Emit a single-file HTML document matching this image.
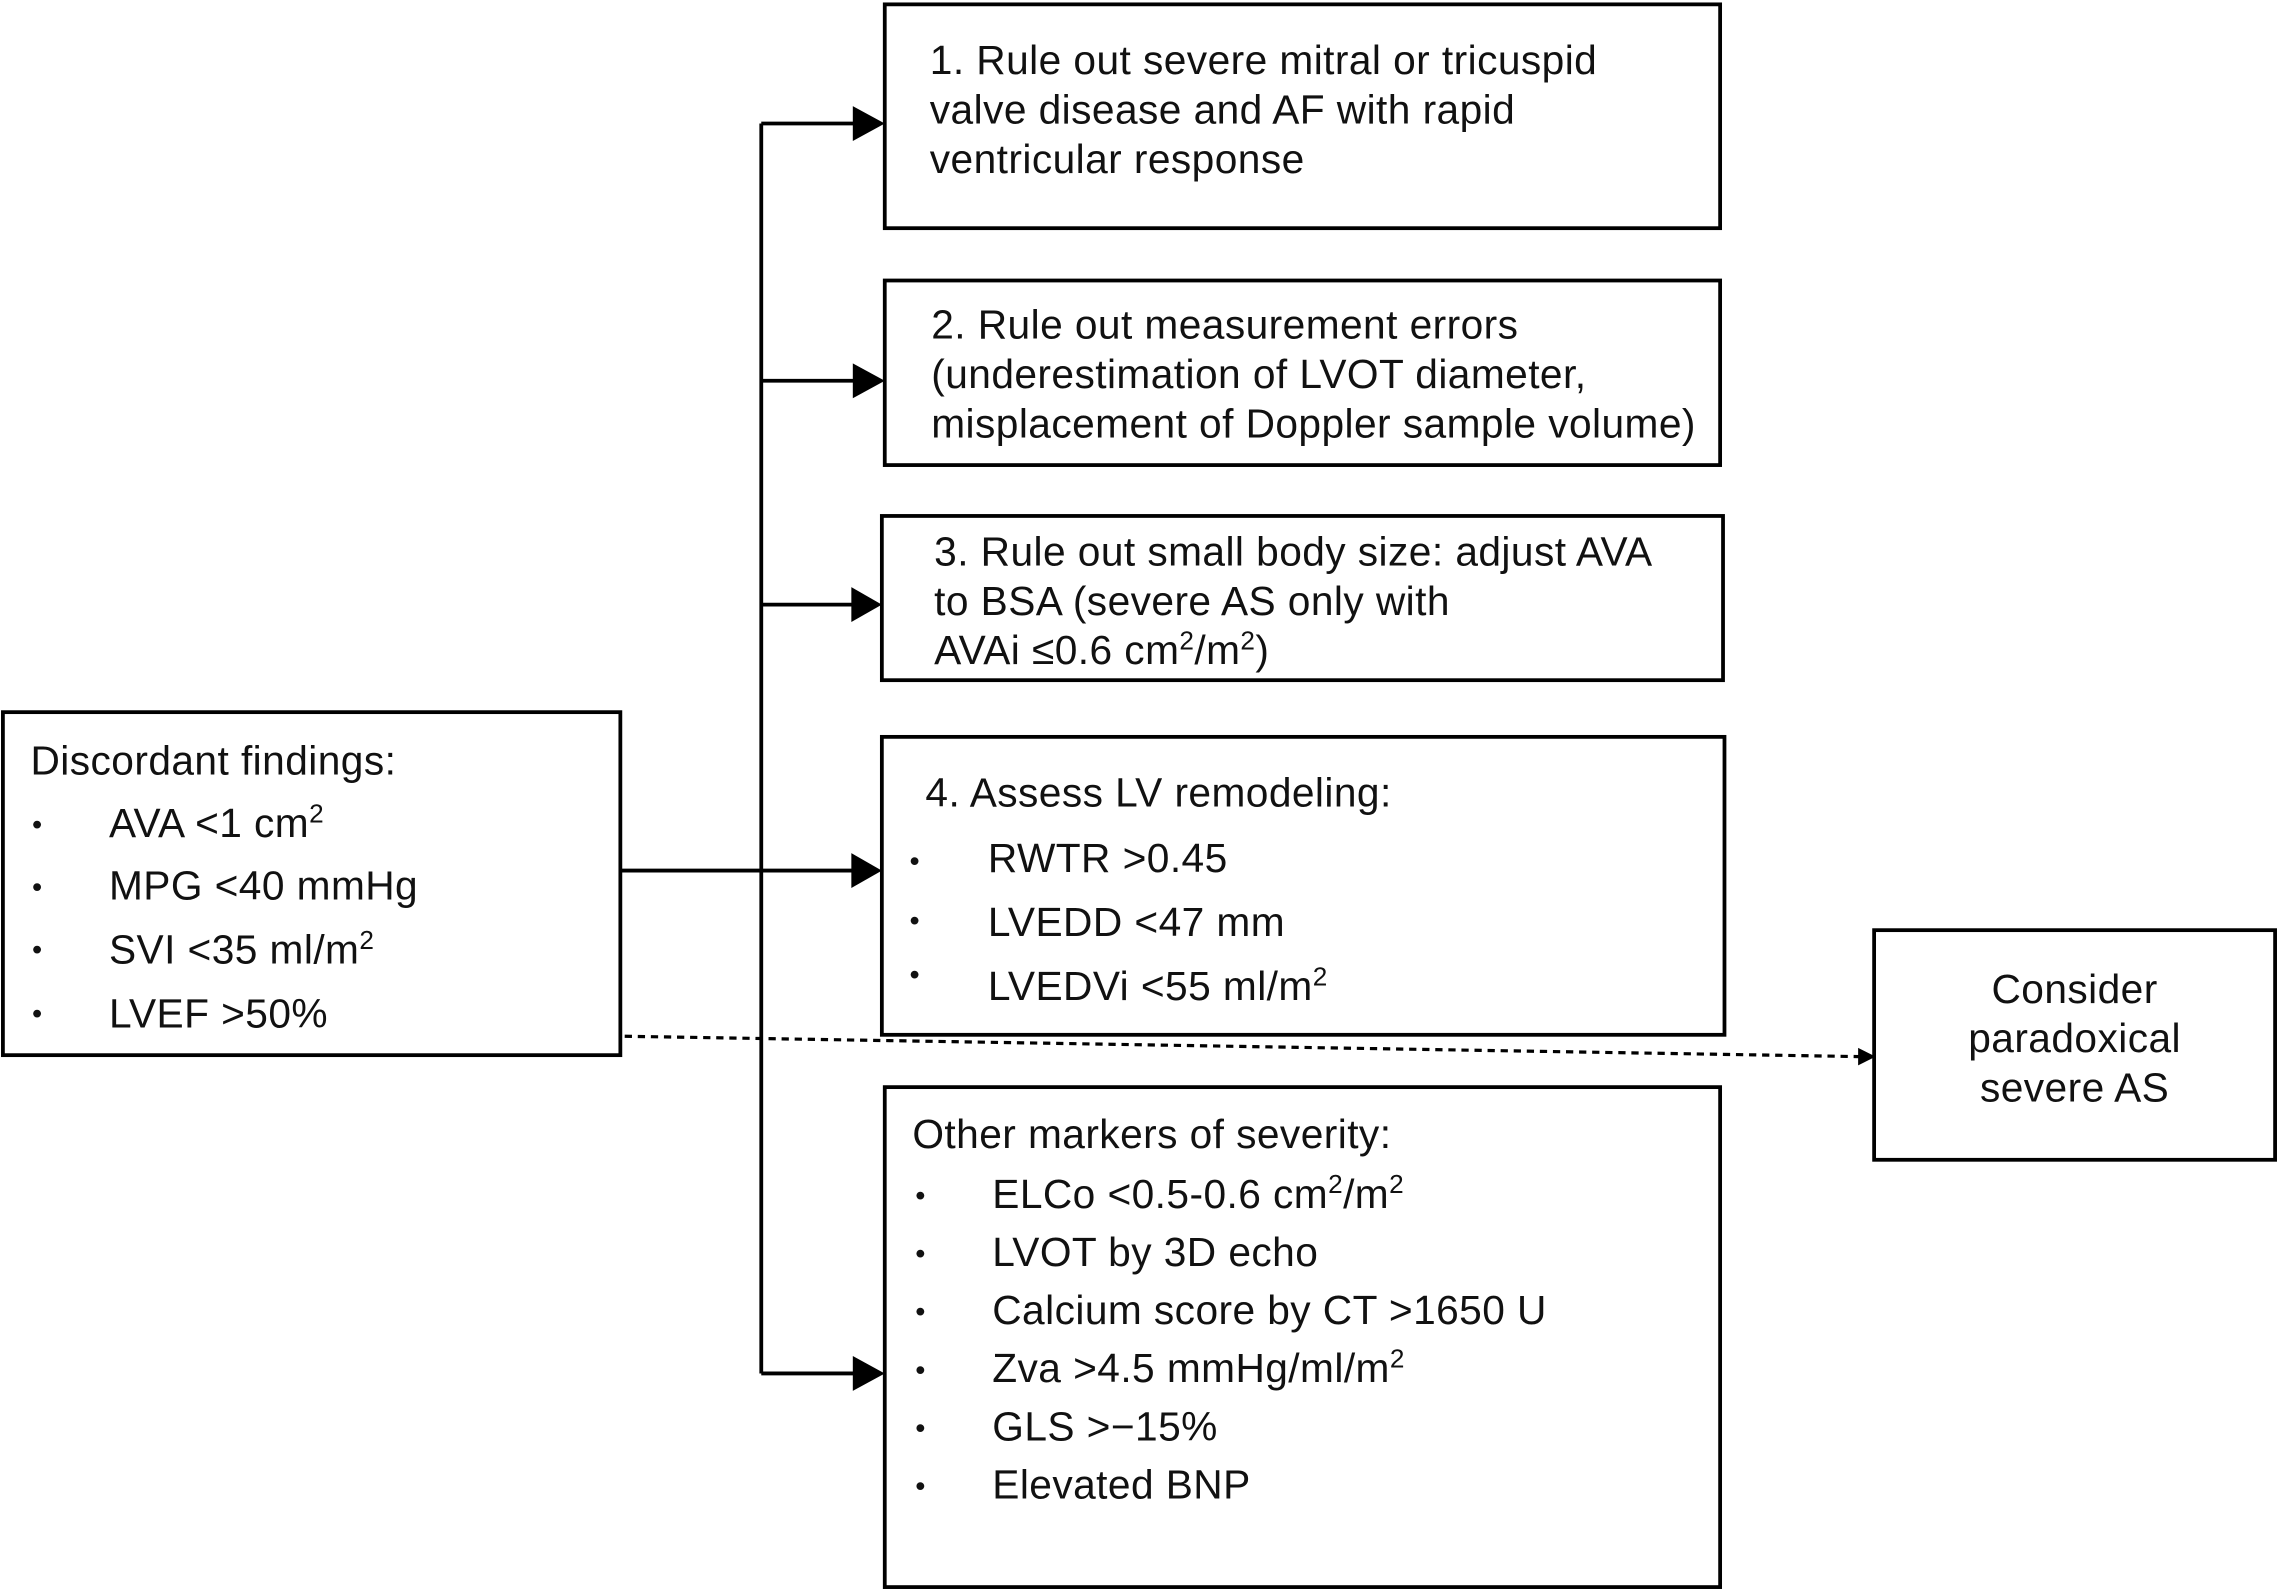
<!DOCTYPE html>
<html><head><style>html,body{margin:0;padding:0;background:#fff}svg{display:block}</style></head>
<body>
<svg width="2278" height="1590" viewBox="0 0 1568 1094" preserveAspectRatio="none" xmlns="http://www.w3.org/2000/svg" font-family="Liberation Sans, Arial, sans-serif" font-size="28" letter-spacing="0.3" fill="#111">
<g fill="none" stroke="#000" stroke-width="2.6">
<rect x="609" y="3" width="575" height="154"/>
<rect x="609" y="193" width="575" height="127"/>
<rect x="607" y="355" width="579" height="113"/>
<rect x="607" y="507" width="580" height="205"/>
<rect x="609" y="748" width="575" height="344"/>
<rect x="2" y="490" width="425" height="236"/>
<rect x="1290" y="640" width="276" height="158"/>
<line x1="524" y1="85" x2="524" y2="945"/>
<line x1="524" y1="85" x2="590" y2="85"/>
<line x1="524" y1="262" x2="590" y2="262"/>
<line x1="524" y1="416" x2="590" y2="416"/>
<line x1="427" y1="599" x2="590" y2="599"/>
<line x1="524" y1="945" x2="590" y2="945"/>
<line x1="430" y1="713" x2="1280" y2="727" stroke-dasharray="5,4" stroke-width="2.2"/>
</g>
<g fill="#000">
<polygon points="587,73 609,85 587,97"/>
<polygon points="587,250 609,262 587,274"/>
<polygon points="586,404 607,416 586,428"/>
<polygon points="586,587 607,599 586,611"/>
<polygon points="587,933 609,945 587,957"/>
<polygon points="1279,721 1291,727 1279,733"/>
</g>
<g>
<text x="640" y="51">1. Rule out severe mitral or tricuspid</text>
<text x="640" y="85">valve disease and AF with rapid</text>
<text x="640" y="119">ventricular response</text>
<text x="641" y="233">2. Rule out measurement errors</text>
<text x="641" y="267">(underestimation of LVOT diameter,</text>
<text x="641" y="301">misplacement of Doppler sample volume)</text>
<text x="643" y="389">3. Rule out small body size: adjust AVA</text>
<text x="643" y="423">to BSA (severe AS only with</text>
<text x="643" y="457">AVAi ≤0.6 cm<tspan font-size="18" dy="-10">2</tspan><tspan dy="10">/m</tspan><tspan font-size="18" dy="-10">2</tspan><tspan dy="10">)</tspan></text>
<text x="637" y="555">4. Assess LV remodeling:</text>
<text x="626" y="599" font-size="20">•</text><text x="680" y="600">RWTR &gt;0.45</text>
<text x="626" y="640" font-size="20">•</text><text x="680" y="644">LVEDD &lt;47 mm</text>
<text x="626" y="677" font-size="20">•</text><text x="680" y="688">LVEDVi &lt;55 ml/m<tspan font-size="18" dy="-10">2</tspan></text>
<text x="628" y="790">Other markers of severity:</text>
<text x="630" y="829" font-size="20">•</text><text x="683" y="831">ELCo &lt;0.5-0.6 cm<tspan font-size="18" dy="-10">2</tspan><tspan dy="10">/m</tspan><tspan font-size="18" dy="-10">2</tspan></text>
<text x="630" y="869" font-size="20">•</text><text x="683" y="871">LVOT by 3D echo</text>
<text x="630" y="909" font-size="20">•</text><text x="683" y="911">Calcium score by CT &gt;1650 U</text>
<text x="630" y="949" font-size="20">•</text><text x="683" y="951">Zva &gt;4.5 mmHg/ml/m<tspan font-size="18" dy="-10">2</tspan></text>
<text x="630" y="989" font-size="20">•</text><text x="683" y="991">GLS &gt;−15%</text>
<text x="630" y="1029" font-size="20">•</text><text x="683" y="1031">Elevated BNP</text>
<text x="21" y="533">Discordant findings:</text>
<text x="22" y="574" font-size="20">•</text><text x="75" y="576">AVA &lt;1 cm<tspan font-size="18" dy="-10">2</tspan></text>
<text x="22" y="617" font-size="20">•</text><text x="75" y="619">MPG &lt;40 mmHg</text>
<text x="22" y="660" font-size="20">•</text><text x="75" y="663">SVI &lt;35 ml/m<tspan font-size="18" dy="-10">2</tspan></text>
<text x="22" y="704" font-size="20">•</text><text x="75" y="707">LVEF &gt;50%</text>
<text x="1428" y="690" text-anchor="middle">Consider</text>
<text x="1428" y="724" text-anchor="middle">paradoxical</text>
<text x="1428" y="758" text-anchor="middle">severe AS</text>
</g>
</svg>
</body></html>
